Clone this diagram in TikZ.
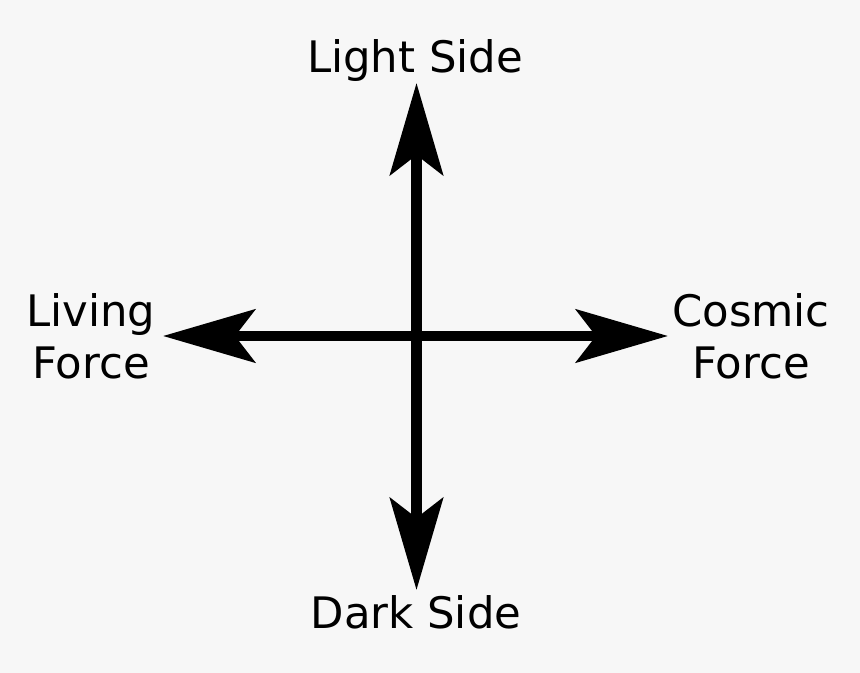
\documentclass[tikz,border=0pt]{standalone}
\usepackage{fontspec}
\setmainfont{DejaVu Sans}
\usetikzlibrary{arrows.meta, positioning}
\definecolor{bggrey}{HTML}{F7F7F7}
\tikzset{
  pole/.style ={font=\fontsize{21.7}{26}\selectfont, align=center, inner sep=0pt},
  tip/.style  ={Stealth[length=46pt, width=26.5pt, inset=10pt]},
  ax/.style   ={{Stealth[length=46pt, width=26.5pt, inset=10pt]}-{Stealth[length=46pt, width=26.5pt, inset=10pt]}, line width=5.2pt},
}

\begin{document}
\begin{tikzpicture}[x=0.5pt, y=-0.5pt]

% background
\fill[bggrey] (0,0) rectangle (860,673);
\useasboundingbox (0,0) rectangle (860,673);

% axis end points
\coordinate (top) at (416.5,83);
\coordinate (bot) at (416.5,590);
\coordinate (lft) at (163,336);
\coordinate (rgt) at (668,336);

% axes
\draw[ax] (bot) -- (top);
\draw[ax] (lft) -- (rgt);

% labels
\node[pole, anchor=base] (light) at (415,73) {Light Side};
\node[pole, anchor=base] (dark) at (416,628) {Dark Side};
\node[pole, anchor=base] (living) at (91,378) {Living\\Force};
\node[pole, anchor=base] (cosmic) at (751,378) {Cosmic\\Force};

\end{tikzpicture}
\end{document}
